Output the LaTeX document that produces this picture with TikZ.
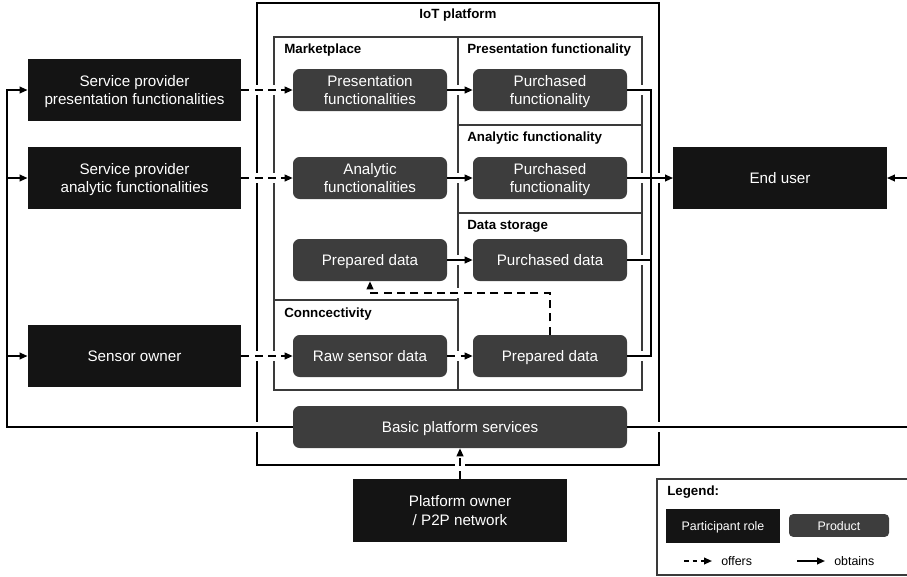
\documentclass[tikz,border=0pt]{standalone}
\usepackage{fontspec}
\setmainfont{Liberation Sans}
\usetikzlibrary{arrows.meta}
\definecolor{rolefill}{HTML}{141414}
\definecolor{prodfill}{HTML}{3D3D3D}
\definecolor{linegray}{HTML}{3A3A3A}
\pgfdeclarelayer{frames}
\pgfdeclarelayer{gaps}
\pgfsetlayers{frames,gaps,main}
\def\nodefont{\fontsize{11.4}{13.8}\selectfont}
\def\legfont{\fontsize{9.3}{11}\selectfont}
% a connector that breaks the frame lines it crosses
\newcommand\conn[2]{%
  \begin{pgfonlayer}{gaps}\draw[gapline] #2;\end{pgfonlayer}
  \draw[#1] #2;}

\begin{document}
\begin{tikzpicture}[x=0.75pt,y=-0.75pt,
    role/.style={fill=rolefill,text=white,font=\nodefont,align=center,text depth=0pt,
      minimum width=160pt,minimum height=47pt,inner sep=0pt},
    product/.style={fill=prodfill,text=white,font=\nodefont,align=center,text depth=0pt,
      rounded corners=5pt,minimum width=115.5pt,minimum height=31.5pt,inner sep=0pt},
    boxline/.style={draw=linegray,line width=1.1pt},
    boxtitle/.style={font=\bfseries\fontsize{10}{12}\selectfont,anchor=west,inner sep=0pt},
    legtext/.style={font=\legfont,anchor=west,inner sep=0pt},
    gapline/.style={draw=white,line width=8pt},
    link/.style={line width=1.3pt},
    obtain/.style={link,-{Triangle[length=6pt,width=5pt]}},
    offer/.style={obtain,dash pattern=on 6pt off 4pt}]
\useasboundingbox (0,0) rectangle (907,576);

% platform frames
\begin{pgfonlayer}{frames}
  \draw[line width=1.3pt] (257,3) rectangle (659,465);
  \draw[boxline] (274,37) rectangle (458,300);
  \draw[boxline] (274,300) rectangle (458,390);
  \draw[boxline] (458,37) rectangle (642,125);
  \draw[boxline] (458,125) rectangle (642,213);
  \draw[boxline] (458,213) rectangle (642,390);
\end{pgfonlayer}
\node[boxtitle,anchor=center] (tiot) at (458,15) {IoT platform};
\node[boxtitle] (tmarket) at (284,50) {Marketplace};
\node[boxtitle] (tpres) at (467,50) {Presentation functionality};
\node[boxtitle] (tana) at (467,138) {Analytic functionality};
\node[boxtitle] (tstore) at (467,226) {Data storage};
\node[boxtitle] (tconn) at (284,314) {Conncectivity};

% participant roles
\node[role] (spp) at (134.5,90) {Service provider\\presentation functionalities};
\node[role] (spa) at (134.5,178) {Service provider\\analytic functionalities};
\node[role] (so) at (134.5,356) {Sensor owner};
\node[role] (eu) at (780,178) {End user};
\node[role] (po) at (460,510.5) {Platform owner\\/ P2P network};

% products
\node[product] (pf) at (370,90) {Presentation\\functionalities};
\node[product] (af) at (370,178) {Analytic\\functionalities};
\node[product] (pdl) at (370,260) {Prepared data};
\node[product] (rsd) at (370,356) {Raw sensor data};
\node[product] (puf) at (550,90) {Purchased\\functionality};
\node[product] (pua) at (550,178) {Purchased\\functionality};
\node[product] (pud) at (550,260) {Purchased data};
\node[product] (pdr) at (550,356) {Prepared data};
\node[product,minimum width=250.5pt] (bps) at (460,427) {Basic platform services};

\coordinate (lb) at (7,0);
\coordinate (rt) at (651,0);
\coordinate (rb) at (912,0);
\coordinate (back) at (0,293);

% offers
\conn{offer}{(spp.east) -- (pf.west)}
\conn{offer}{(spa.east) -- (af.west)}
\conn{offer}{(so.east) -- (rsd.west)}
\conn{offer}{(rsd.east) -- (pdr.west)}
\conn{offer}{(pdr.north) |- (pdl.south |- back) -- (pdl.south)}
\conn{offer}{(po.north) -- (bps.south)}

% obtains
\conn{obtain}{(pf.east) -- (puf.west)}
\conn{obtain}{(af.east) -- (pua.west)}
\conn{obtain}{(pdl.east) -- (pud.west)}
\conn{link}{(puf.east) -| (rt |- pdr.east) -- (pdr.east)}
\conn{link}{(pud.east) -- (pud.east -| rt)}
\conn{obtain}{(pua.east) -- (eu.west)}
\conn{obtain}{(bps.west) -| (lb |- spp.west) -- (spp.west)}
\draw[obtain] (lb |- spa.west) -- (spa.west);
\draw[obtain] (lb |- so.west) -- (so.west);
\conn{obtain}{(bps.east) -- (bps.east -| rb) |- (eu.east)}

% legend
\draw[boxline,line width=1pt] (657,479) rectangle (912,575);
\node[boxtitle] (tleg) at (667,492) {Legend:};
\node[role,font=\legfont,minimum width=85.5pt,minimum height=25.5pt] (lrole) at (723,526) {Participant role};
\node[product,font=\legfont,rounded corners=3pt,minimum width=75pt,minimum height=17pt] (lprod) at (839,525.5) {Product};
\coordinate (of1) at (684,561);
\coordinate (of2) at (712,561);
\coordinate (ob1) at (797,561);
\coordinate (ob2) at (825,561);
\draw[obtain,dash pattern=on 3.5pt off 3pt] (of1) -- (of2);
\draw[obtain] (ob1) -- (ob2);
\node[legtext] (loff) at (721,561) {offers};
\node[legtext] (lobt) at (834,561) {obtains};
\end{tikzpicture}
\end{document}
